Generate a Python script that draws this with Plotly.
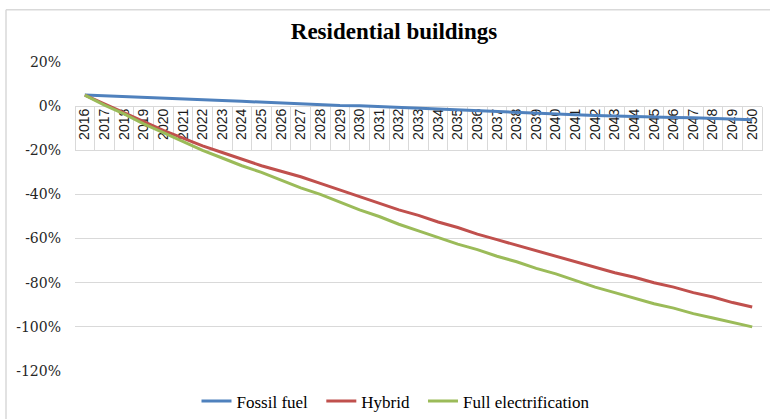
import plotly.graph_objects as go

years = [str(y) for y in range(2016, 2051)]

fossil_fuel = [5.0, 4.7, 4.4, 4.1, 3.8, 3.4, 3.0, 2.6, 2.2, 1.8, 1.4, 1.0, 0.6, 0.3, 0.2,
               -0.2, -0.6, -1.0, -1.4, -1.8, -2.2, -2.6, -3.0, -3.3, -3.6, -3.9, -4.2, -4.5,
               -4.7, -4.9, -5.1, -5.3, -5.6, -5.9, -6.2]
hybrid = [5, 1, -3, -7, -11, -14.5, -18, -21, -24, -27, -29.5, -32, -35, -38, -41,
          -44, -47, -49.5, -52.5, -55, -58, -60.5, -63, -65.5, -68, -70.5, -73, -75.5,
          -77.5, -80, -82, -84.5, -86.5, -89, -91]
full_electrification = [5, 0.5, -3.5, -8, -12, -16, -20, -23.5, -27, -30, -33.5, -37, -40,
                        -43.5, -47, -50, -53.5, -56.5, -59.5, -62.5, -65, -68, -70.5, -73.5,
                        -76, -79, -82, -84.5, -87, -89.5, -91.5, -94, -96, -98, -100]

y_ticks = [20, 0, -20, -40, -60, -80, -100, -120]
y_tick_labels = ["20%", "0%", "-20%", "-40%", "-60%", "-80%", "-100%", "-120%"]

series = [
    ("Fossil fuel", fossil_fuel, "#4F81BD"),
    ("Hybrid", hybrid, "#C0504D"),
    ("Full electrification", full_electrification, "#9BBB59"),
]

SERIF = "Liberation Serif, Times New Roman, serif"
TICK_SERIF = "DejaVu Serif, serif"
SANS = "Liberation Sans, Arial, sans-serif"
PAD = "\u00a0\u00a0"

fig = go.Figure()
for i, (name, vals, color) in enumerate(series):
    label = name + (PAD if i < len(series) - 1 else "")
    fig.add_trace(go.Scatter(x=years, y=vals, name=label, mode="lines",
                             line=dict(color=color, width=3)))

W, H = 770, 419
L, R, T, B = 75, 8, 61.5, 47.5
pw, ph = W - L - R, H - T - B

def px(x):
    return (x - L) / pw

def py(y):
    return (H - B - y) / ph

fig.update_layout(
    template="none",
    width=W, height=H,
    margin=dict(l=L, r=R, t=T, b=B, pad=0, autoexpand=False),
    paper_bgcolor="white", plot_bgcolor="white",
    title=dict(text="<b>Residential buildings</b>", x=px(394), xref="paper", xanchor="center",
               y=1 - 31 / H, yref="container", yanchor="middle",
               font=dict(family=SERIF, size=23, color="black")),
    showlegend=True,
    legend=dict(orientation="h", x=px(396), xanchor="center", y=py(402), yanchor="middle",
                font=dict(family=SERIF, size=17, color="#000000"),
                bgcolor="rgba(0,0,0,0)"),
    xaxis=dict(type="category", categoryorder="array", categoryarray=years,
               range=[-0.5, 34.5], anchor="free", position=120 / 140, automargin=False,
               showgrid=False, showline=True, linecolor="#D9D9D9", linewidth=1,
               ticks="outside", tickson="boundaries", ticklen=44, tickcolor="#D9D9D9",
               tickwidth=1, tickangle=-90, ticklabelstandoff=-4,
               tickfont=dict(family=SANS, size=14, color="#1A1A1A"),
               layer="below traces", zeroline=False),
    yaxis=dict(range=[-120, 20], tickmode="array", tickvals=y_ticks, ticktext=y_tick_labels,
               automargin=False,
               showgrid=True, gridcolor="#D9D9D9", gridwidth=1, zeroline=False,
               showline=False, ticks="", ticklabelstandoff=13,
               tickfont=dict(family=TICK_SERIF, size=14, color="#262626")),
    shapes=[
        dict(type="line", xref="paper", yref="paper", x0=px(6), x1=px(772), y0=py(9), y1=py(9),
             line=dict(color="#D9D9D9", width=1.5)),
        dict(type="line", xref="paper", yref="paper", x0=px(6), x1=px(6), y0=py(9), y1=py(425),
             line=dict(color="#D9D9D9", width=1.5)),
    ],
)

fig.write_html("out.html", config={"displayModeBar": False},
               post_script="document.body.style.margin='0';")
